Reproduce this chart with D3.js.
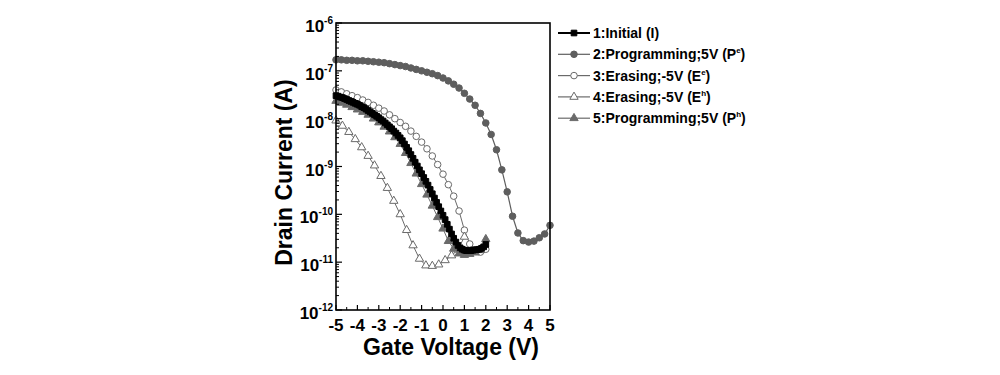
<!DOCTYPE html>
<html>
<head>
<meta charset="utf-8">
<script src="https://cdn.jsdelivr.net/npm/d3@7"></script>
<style>
  body { margin: 0; background: #fff; }
  text { font-family: 'Liberation Sans', Arial, sans-serif; font-weight: bold; }
</style>
</head>
<body>
<svg id="chart" width="1000" height="375"></svg>
<script>
// gate voltage sweeps (V) and log10 of drain current (A)
const vInitial = [-5.0,-4.9,-4.8,-4.7,-4.6,-4.5,-4.4,-4.3,-4.2,-4.1,-4.0,-3.9,-3.8,-3.7,-3.6,-3.5,-3.4,-3.3,-3.2,-3.1,
  -3.0,-2.9,-2.8,-2.7,-2.6,-2.5,-2.4,-2.3,-2.2,-2.1,-2.0,-1.9,-1.8,-1.7,-1.6,-1.5,-1.4,-1.3,-1.2,-1.1,
  -1.0,-0.9,-0.8,-0.7,-0.6,-0.5,-0.4,-0.3,-0.2,-0.1,0.0,0.1,0.2,0.3,0.4,0.5,0.6,0.7,0.8,0.9,
  1.0,1.1,1.2,1.3,1.4,1.5,1.6,1.7,1.8,1.9,2.0]
const logInitial = [-7.52,-7.53,-7.55,-7.56,-7.58,-7.60,-7.62,-7.64,-7.66,-7.68,-7.70,-7.72,-7.75,-7.77,-7.80,-7.83,-7.86,-7.89,-7.92,-7.95,
  -7.98,-8.02,-8.05,-8.09,-8.13,-8.17,-8.21,-8.26,-8.30,-8.35,-8.40,-8.46,-8.53,-8.60,-8.67,-8.75,-8.83,-8.91,-8.99,-9.07,
  -9.15,-9.23,-9.31,-9.39,-9.48,-9.57,-9.66,-9.75,-9.84,-9.93,-10.02,-10.11,-10.21,-10.31,-10.41,-10.50,-10.58,-10.65,-10.70,-10.73,
  -10.75,-10.76,-10.76,-10.76,-10.75,-10.74,-10.74,-10.73,-10.71,-10.68,-10.63]

const vProgE = [-5,-4.75,-4.5,-4.25,-4,-3.75,-3.5,-3.25,-3,-2.75,-2.5,-2.25,-2,-1.75,-1.5,-1.25,-1,-0.75,-0.5,-0.25,
  0,0.25,0.5,0.75,1,1.25,1.5,1.75,2,2.25,2.5,2.75,3,3.25,3.5,3.75,4,4.25,4.5,4.75,5]
const logProgE = [-6.77,-6.77,-6.78,-6.78,-6.79,-6.79,-6.80,-6.81,-6.82,-6.83,-6.85,-6.87,-6.89,-6.91,-6.94,-6.97,-7.00,-7.03,-7.06,-7.10,
  -7.15,-7.21,-7.28,-7.36,-7.47,-7.59,-7.72,-7.89,-8.09,-8.33,-8.65,-9.07,-9.53,-10.04,-10.39,-10.55,-10.58,-10.56,-10.49,-10.41,-10.23]

const vEraseE = [-5,-4.75,-4.5,-4.25,-4,-3.75,-3.5,-3.25,-3,-2.75,-2.5,-2.25,-2,-1.75,-1.5,-1.25,-1,-0.75,-0.5,-0.25,
  0,0.25,0.5,0.75,1,1.25,1.5,1.75,2]
const logEraseE = [-7.40,-7.44,-7.48,-7.52,-7.56,-7.61,-7.66,-7.72,-7.78,-7.84,-7.92,-8.00,-8.08,-8.16,-8.26,-8.37,-8.49,-8.63,-8.78,-8.96,
  -9.16,-9.38,-9.62,-9.93,-10.33,-10.62,-10.76,-10.79,-10.73]

const vEraseH = [-5,-4.7,-4.4,-4.1,-3.8,-3.5,-3.2,-2.9,-2.6,-2.3,-2.0,-1.7,-1.4,-1.1,-0.8,-0.5,-0.2,0.1,0.4,0.7,1.0]
const logEraseH = [-8.04,-8.15,-8.28,-8.43,-8.60,-8.78,-8.98,-9.20,-9.45,-9.72,-10.00,-10.33,-10.65,-10.93,-11.07,-11.08,-11.05,-10.96,-10.86,-10.74,-10.47]

const vProgH = [-5,-4.75,-4.5,-4.25,-4,-3.75,-3.5,-3.25,-3,-2.75,-2.5,-2.25,-2,-1.75,-1.5,-1.25,-1,-0.75,-0.5,-0.25,
  0,0.25,0.5,0.75,1,1.25,1.5,1.75,2]
const logProgH = [-7.63,-7.67,-7.71,-7.76,-7.81,-7.86,-7.92,-8.00,-8.08,-8.17,-8.27,-8.39,-8.53,-8.72,-8.93,-9.15,-9.37,-9.59,-9.82,-10.06,
  -10.30,-10.56,-10.72,-10.82,-10.85,-10.83,-10.80,-10.75,-10.52]

const legendLabels = [['1:Initial (I)', ''], ['2:Programming;5V (P', 'e'], ['3:Erasing;-5V (E', 'e'],
  ['4:Erasing;-5V (E', 'h'], ['5:Programming;5V (P', 'h']]
const xTicks = [-5, -4, -3, -2, -1, 0, 1, 2, 3, 4, 5]
const yExponents = [-6, -7, -8, -9, -10, -11, -12]

const plotLeft = 336, plotRight = 550, plotTop = 23, plotBottom = 310
const svg = d3.select('#chart')

let xScale = d3.scaleLinear().domain([-5, 5]).range([plotLeft, plotRight])
let yScale = d3.scaleLog().domain([1e-12, 1e-6]).range([plotBottom, plotTop])

const series = [
  { v: vInitial, l: logInitial, shape: 'square', fill: '#000', stroke: '#000', line: '#000', lw: 1.8, z: 5 },
  { v: vProgE, l: logProgE, shape: 'circle', fill: '#5e5e5e', stroke: '#5e5e5e', line: '#5e5e5e', lw: 1.2, z: 1 },
  { v: vEraseE, l: logEraseE, shape: 'circle', fill: '#fff', stroke: '#6a6a6a', line: '#6a6a6a', lw: 1, z: 2 },
  { v: vEraseH, l: logEraseH, shape: 'triangle', fill: '#fff', stroke: '#6a6a6a', line: '#6a6a6a', lw: 1, z: 3 },
  { v: vProgH, l: logProgH, shape: 'triangle', fill: '#6a6a6a', stroke: '#6a6a6a', line: '#6a6a6a', lw: 1, z: 4 }
]

const symbolFor = s => {
  if (s.shape == 'square') return d3.symbol().type(d3.symbolSquare).size(32)()
  if (s.shape == 'circle') return d3.symbol().type(d3.symbolCircle).size(34)()
  return d3.symbol().type(d3.symbolTriangle).size(30)()
}

let lineGenerator = d3.line()
  .x(d => xScale(d[0]))
  .y(d => yScale(d[1]))

// curves, black initial curve drawn last so it sits on top
series.slice().sort((a, b) => a.z - b.z).forEach(s => {
  let pts = s.v.map((v, i) => [v, Math.pow(10, s.l[i])])
  let g = svg.append('g')
  g.append('path')
    .datum(pts)
    .attr('d', lineGenerator)
    .style('fill', 'none')
    .style('stroke', s.line)
    .style('stroke-width', s.lw)
  g.selectAll('path.pt')
    .data(pts)
    .enter()
    .append('path')
    .attr('class', 'pt')
    .attr('d', symbolFor(s))
    .attr('transform', d => `translate(${xScale(d[0])},${yScale(d[1])})`)
    .style('fill', s.fill)
    .style('stroke', s.stroke)
    .style('stroke-width', 1)
})

// frame
svg.append('rect')
  .attr('x', plotLeft)
  .attr('y', plotTop)
  .attr('width', plotRight - plotLeft)
  .attr('height', plotBottom - plotTop)
  .style('fill', 'none')
  .style('stroke', '#000')
  .style('stroke-width', 1.6)

// x ticks (inward) and labels
let xMinor = d3.range(-4.5, 5, 1)
svg.selectAll('line.xmaj').data(xTicks).enter().append('line')
  .attr('x1', d => xScale(d)).attr('x2', d => xScale(d))
  .attr('y1', plotBottom).attr('y2', plotBottom - 5)
  .style('stroke', '#000').style('stroke-width', 1.2)
svg.selectAll('line.xmin').data(xMinor).enter().append('line')
  .attr('x1', d => xScale(d)).attr('x2', d => xScale(d))
  .attr('y1', plotBottom).attr('y2', plotBottom - 3)
  .style('stroke', '#000').style('stroke-width', 1)
svg.selectAll('text.xl').data(xTicks).enter().append('text')
  .attr('x', d => xScale(d))
  .attr('y', plotBottom + 21)
  .style('text-anchor', 'middle')
  .style('font-size', '17px')
  .text(d => d)

// y ticks (inward) with log minor ticks
let yMinor = []
yExponents.slice(1).forEach(e => { for (let k = 2; k <= 9; k++) yMinor.push(k * Math.pow(10, e)) })
svg.selectAll('line.ymaj').data(yExponents).enter().append('line')
  .attr('x1', plotLeft).attr('x2', plotLeft + 6)
  .attr('y1', d => yScale(Math.pow(10, d))).attr('y2', d => yScale(Math.pow(10, d)))
  .style('stroke', '#000').style('stroke-width', 1.2)
svg.selectAll('line.ymin').data(yMinor).enter().append('line')
  .attr('x1', plotLeft).attr('x2', plotLeft + 3)
  .attr('y1', d => yScale(d)).attr('y2', d => yScale(d))
  .style('stroke', '#000').style('stroke-width', 1)

let yLabels = svg.selectAll('text.yl').data(yExponents).enter().append('text')
  .attr('x', plotLeft - 3)
  .attr('y', d => yScale(Math.pow(10, d)) + 9)
  .style('text-anchor', 'end')
  .style('font-size', '17px')
yLabels.append('tspan').text('10')
yLabels.append('tspan')
  .attr('dy', -8)
  .style('font-size', '10px')
  .text(d => d)

// axis titles
svg.append('text')
  .attr('x', 451)
  .attr('y', 355)
  .style('text-anchor', 'middle')
  .style('font-size', '23px')
  .text('Gate Voltage (V)')

svg.append('text')
  .attr('transform', `translate(292, ${(plotTop + plotBottom) / 2 + 6})rotate(-90)`)
  .style('text-anchor', 'middle')
  .style('font-size', '23px')
  .text('Drain Current (A)')

// legend
let legend = svg.append('g').attr('transform', 'translate(558, 33)')
series.forEach((s, i) => {
  let row = legend.append('g').attr('transform', `translate(0, ${i * 21.3})`)
  row.append('line')
    .attr('x1', 0).attr('x2', 32)
    .style('stroke', s.line)
    .style('stroke-width', i == 0 ? 2 : 1.2)
  row.append('path')
    .attr('d', symbolFor(s))
    .attr('transform', 'translate(16,0)')
    .style('fill', s.fill)
    .style('stroke', s.stroke)
  let t = row.append('text')
    .attr('x', 35)
    .attr('y', 5)
    .style('font-size', '14px')
  t.append('tspan').text(legendLabels[i][0])
  if (legendLabels[i][1]) {
    t.append('tspan').attr('dy', -6).style('font-size', '8px').text(legendLabels[i][1])
    t.append('tspan').attr('dy', 6).text(')')
  }
})
</script>
</body>
</html>
